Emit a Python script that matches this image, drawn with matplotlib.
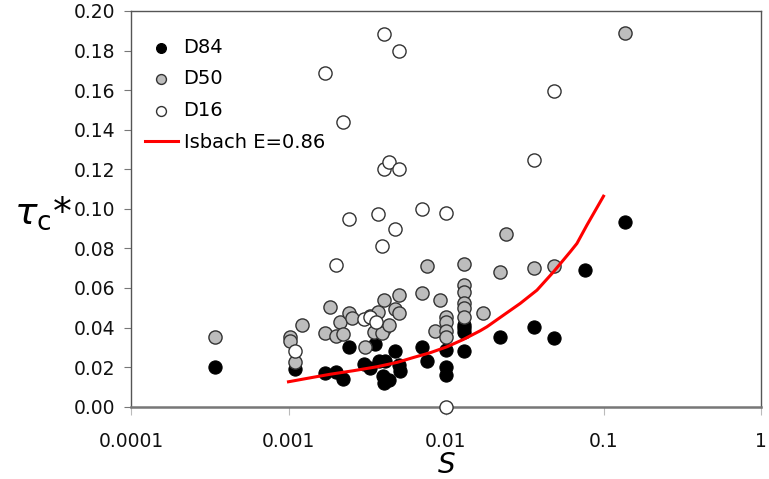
import matplotlib
matplotlib.use("Agg")
import matplotlib.pyplot as plt
from matplotlib.ticker import FixedLocator, FixedFormatter, NullLocator

# ---- data ----
d84_S = [0.000343, 0.0011, 0.00171, 0.00201, 0.00222, 0.00241, 0.0030, 0.00331,
         0.00352, 0.00374, 0.00412, 0.00398, 0.00402, 0.00432, 0.00472, 0.0050,
         0.00508, 0.00704, 0.00757, 0.01, 0.01, 0.01, 0.013, 0.013, 0.013, 0.013,
         0.0219, 0.036, 0.0487, 0.0766, 0.136]
d84_tau = [0.020, 0.019, 0.0172, 0.0175, 0.0140, 0.0303, 0.0214, 0.0194,
           0.0315, 0.0231, 0.0231, 0.0155, 0.0118, 0.0135, 0.0283, 0.0211,
           0.0182, 0.0300, 0.0232, 0.0286, 0.0199, 0.0160, 0.0413, 0.0379, 0.0396, 0.0283,
           0.0350, 0.0404, 0.0345, 0.0690, 0.0936]

d50_S = [0.000343, 0.00102, 0.00102, 0.0011, 0.00121, 0.00171, 0.00183, 0.00201,
         0.00211, 0.00222, 0.00241, 0.00253, 0.00305, 0.00327, 0.00347, 0.00368,
         0.00402, 0.00402, 0.00393, 0.00432, 0.00472, 0.0050, 0.0050, 0.00704, 0.00757,
         0.00855, 0.0091, 0.01, 0.01, 0.01, 0.01, 0.013, 0.013, 0.013, 0.013,
         0.013, 0.013, 0.0171, 0.0219, 0.0241, 0.036, 0.0487, 0.136]
d50_tau = [0.035, 0.0350, 0.0334, 0.0228, 0.0413, 0.0372, 0.0503, 0.0357,
           0.0429, 0.0367, 0.0472, 0.0447, 0.0303, 0.0457, 0.0377, 0.0480,
           0.0539, 0.0392, 0.0371, 0.0412, 0.0494, 0.0474, 0.0564, 0.0574, 0.0710,
           0.0382, 0.0539, 0.0455, 0.0430, 0.0384, 0.0350, 0.0720, 0.0614, 0.0581, 0.0525,
           0.0497, 0.0455, 0.0472, 0.0680, 0.0871, 0.0700, 0.0709, 0.189]

d16_S = [0.0011, 0.00171, 0.00201, 0.00222, 0.00241, 0.0030, 0.00331, 0.00361,
         0.00368, 0.00393, 0.00402, 0.00402, 0.00432, 0.00472, 0.00503, 0.00503,
         0.00704, 0.01, 0.01, 0.036, 0.0487]
d16_tau = [0.0283, 0.1687, 0.0716, 0.1441, 0.0950, 0.0442, 0.0455, 0.0430,
           0.0972, 0.0813, 0.1885, 0.1200, 0.1235, 0.0900, 0.1798, 0.1200,
           0.0999, 0.0977, 0.0, 0.1245, 0.1597]

isbach_S = [0.001, 0.00131, 0.00184, 0.00259, 0.00365, 0.00489, 0.00623, 0.00795,
            0.01015, 0.0129, 0.0165, 0.0182, 0.0232, 0.0296, 0.0378, 0.0482,
            0.0615, 0.0678, 0.0785, 0.1]
isbach_tau = [0.0126, 0.0143, 0.0164, 0.0182, 0.0202, 0.0224, 0.0249, 0.0273,
              0.0303, 0.0340, 0.0384, 0.0404, 0.0463, 0.0522, 0.0589, 0.0682,
              0.0783, 0.0825, 0.0918, 0.1064]

x_ticks = [0.0001, 0.001, 0.01, 0.1, 1]
x_tick_labels = ["0.0001", "0.001", "0.01", "0.1", "1"]
y_ticks = [0.00, 0.02, 0.04, 0.06, 0.08, 0.10, 0.12, 0.14, 0.16, 0.18, 0.20]

plt.rcParams['font.family'] = ['DejaVu Sans']

fig = plt.figure(figsize=(7.69, 4.79), dpi=100)
ax = fig.add_axes([131/769, 1 - 406.7/479, (761 - 131)/769, (406.7 - 11)/479])

ms = 90
edge = '#333333'
ax.scatter(d84_S, d84_tau, s=ms, c='black', edgecolors='black', linewidths=0.8,
           zorder=3, label='D84', clip_on=False)
ax.scatter(d50_S, d50_tau, s=ms, c='#bdbdbd', edgecolors=edge, linewidths=1.0,
           zorder=3, label='D50', clip_on=False)
ax.scatter(d16_S, d16_tau, s=ms, c='white', edgecolors=edge, linewidths=1.0,
           zorder=3, label='D16', clip_on=False)
ax.plot(isbach_S, isbach_tau, color='#ff0000', lw=2.2, zorder=4,
        label='Isbach E=0.86', solid_joinstyle='round')

ax.set_xscale('log')
ax.set_xlim(0.0001, 1)
ax.set_ylim(0, 0.2)
ax.xaxis.set_major_locator(FixedLocator(x_ticks))
ax.xaxis.set_major_formatter(FixedFormatter(x_tick_labels))
ax.xaxis.set_minor_locator(NullLocator())
ax.set_yticks(y_ticks)
ax.set_yticklabels([f"{v:.2f}" for v in y_ticks])

for sp in ax.spines.values():
    sp.set_color('#555555')
    sp.set_linewidth(1.0)
ax.spines['bottom'].set_color('#777777')
ax.spines['bottom'].set_linewidth(1.8)
ax.tick_params(axis='y', direction='out', length=5, color='#777777',
               labelsize=13.5, pad=6, labelcolor='#111111')
ax.tick_params(axis='x', direction='out', length=6, color='#bbbbbb',
               labelsize=13.5, pad=12, labelcolor='#111111')

ax.set_xlabel('$S$', fontsize=20, labelpad=0)
fig.text(0.018, 0.555, r'$\tau_{\mathrm{c}}$*', fontsize=27, ha='left', va='center')

leg = ax.legend(loc='upper left', frameon=False, fontsize=14,
                bbox_to_anchor=(0.0, 0.967), handletextpad=0.3,
                labelspacing=0.65, handlelength=1.7, markerscale=0.75,
                borderaxespad=0.3)

fig.savefig('out.png', dpi=100)
